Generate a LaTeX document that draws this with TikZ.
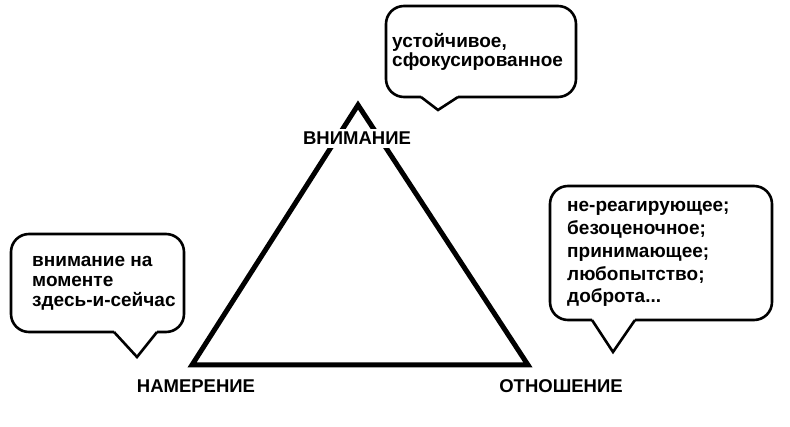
\documentclass[tikz,border=0pt]{standalone}
\usepackage{fontspec}
\setmainfont{Liberation Sans}
\begin{document}
\begin{tikzpicture}[x=1pt,y=-1pt,
  bubble/.style={draw, line width=2.6pt, rounded corners=18pt},
  tail/.style={draw, line width=2.6pt, line join=miter},
  tri/.style={draw, line width=5pt, line join=miter},
  lbl/.style={font=\bfseries\fontsize{18.5}{22}\selectfont, fill=white, inner xsep=1pt, inner ysep=3pt, anchor=base},
  txt/.style={font=\bfseries\fontsize{19}{22}\selectfont, inner sep=0pt, anchor=base west}]
\useasboundingbox[fill=white] (0,0) rectangle (790,427);

% triangle
\coordinate (A) at (358,105);
\coordinate (B) at (192,365);
\coordinate (C) at (528,365);
\draw[tri] (A) -- (B) -- (C) -- cycle;

% labels
\node[lbl] (vnim) at (357,145) {ВНИМАНИЕ};
\node[lbl] (namer) at (196,393) {НАМЕРЕНИЕ};
\node[lbl] (otn) at (561,393) {ОТНОШЕНИЕ};

% top bubble
\draw[bubble] (421,97) -- (386,97) -- (386,6) -- (576,6) -- (576,97) -- (458,97);
\coordinate (ttip) at (438,110);
\draw[tail] (421,97) -- (ttip) -- (458,97);
\node[txt] (t1) at (392,48) {устойчивое,};
\node[txt] (t2) at (392,67) {сфокусированное};

% right bubble
\draw[bubble] (592,320) -- (550,320) -- (550,186) -- (772,186) -- (772,320) -- (635,320);
\coordinate (rtip) at (613,352);
\draw[tail] (592,320) -- (rtip) -- (635,320);
\node[txt] (r1) at (567,212) {не-реагирующее;};
\node[txt] (r2) at (567,235) {безоценочное;};
\node[txt] (r3) at (567,258) {принимающее;};
\node[txt] (r4) at (567,281) {любопытство;};
\node[txt] (r5) at (567,303) {доброта...};

% left bubble
\draw[bubble] (114,332) -- (11,332) -- (11,234) -- (184,234) -- (184,332) -- (157,332);
\coordinate (ltip) at (137,357);
\draw[tail] (114,332) -- (ltip) -- (157,332);
\node[txt] (l1) at (32,267) {внимание на};
\node[txt] (l2) at (32,287) {моменте};
\node[txt] (l3) at (32,307) {здесь-и-сейчас};
\end{tikzpicture}
\end{document}
